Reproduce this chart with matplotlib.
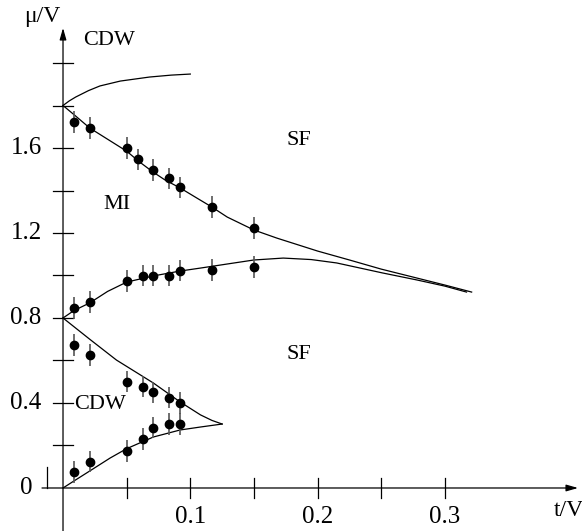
import matplotlib
matplotlib.use("Agg")
import matplotlib.pyplot as plt

plt.rcParams['font.family'] = ['Liberation Serif', 'DejaVu Serif']

# ---------------- data (t/V, mu/V) ----------------
# phase boundaries
cdw_top_t = [0.0, 0.005, 0.01, 0.02, 0.029, 0.045, 0.068, 0.085, 0.1]
cdw_top_mu = [1.8, 1.822, 1.84, 1.87, 1.892, 1.915, 1.934, 1.943, 1.948]

mi_upper_t = [0.0, 0.01, 0.021, 0.05, 0.06, 0.07, 0.08, 0.092, 0.105, 0.117,
              0.129, 0.15, 0.168, 0.2, 0.225, 0.25, 0.278, 0.3, 0.321]
mi_upper_mu = [1.8, 1.75, 1.694, 1.585, 1.535, 1.49, 1.45, 1.412, 1.365, 1.322,
               1.275, 1.214, 1.176, 1.115, 1.073, 1.03, 0.988, 0.955, 0.922]

mi_lower_t = [0.0, 0.0086, 0.021, 0.035, 0.05, 0.071, 0.092, 0.108, 0.13, 0.15,
              0.173, 0.195, 0.215, 0.251, 0.278, 0.3, 0.317]
mi_lower_mu = [0.8, 0.835, 0.871, 0.925, 0.969, 0.998, 1.021, 1.035, 1.055, 1.073,
               1.082, 1.075, 1.059, 1.012, 0.979, 0.95, 0.922]

cdw_up_t = [0.0, 0.021, 0.042, 0.06, 0.071, 0.092, 0.108, 0.117, 0.125]
cdw_up_mu = [0.8, 0.70, 0.602, 0.535, 0.494, 0.405, 0.344, 0.318, 0.301]

cdw_low_t = [0.0, 0.0086, 0.021, 0.037, 0.05, 0.071, 0.092, 0.108, 0.125]
cdw_low_mu = [0.0, 0.033, 0.08, 0.141, 0.185, 0.24, 0.273, 0.287, 0.301]

# numerical data points with error bars
p1_t = [0.0086, 0.021, 0.05, 0.059, 0.071, 0.083, 0.092, 0.117, 0.15]
p1_mu = [1.722, 1.694, 1.60, 1.547, 1.496, 1.457, 1.415, 1.322, 1.224]

p2_t = [0.0086, 0.021, 0.05, 0.063, 0.071, 0.083, 0.092, 0.117, 0.15]
p2_mu = [0.847, 0.875, 0.974, 0.999, 0.999, 0.999, 1.023, 1.026, 1.04]

p3_t = [0.0086, 0.021, 0.05, 0.063, 0.071, 0.083, 0.092]
p3_mu = [0.673, 0.626, 0.50, 0.477, 0.45, 0.425, 0.40]

p4_t = [0.0086, 0.021, 0.05, 0.063, 0.071, 0.083, 0.092]
p4_mu = [0.075, 0.124, 0.174, 0.23, 0.284, 0.301, 0.301]

err = 0.05

x_ticks = [0.05, 0.1, 0.15, 0.2, 0.25, 0.3]
x_labels = {0.1: '0.1', 0.2: '0.2', 0.3: '0.3'}
y_ticks = [0.2, 0.4, 0.6, 0.8, 1.0, 1.2, 1.4, 1.6, 1.8, 2.0]
y_labels = {0.0: '0', 0.4: '0.4', 0.8: '0.8', 1.2: '1.2', 1.6: '1.6'}

# ---------------- figure ----------------
fig = plt.figure(figsize=(5.82, 5.31), dpi=100)
ax = fig.add_axes([0, 0, 1, 1])
ax.set_xlim(-0.0495, 0.4077)
ax.set_ylim(-0.2024, 2.2965)
ax.axis('off')

lw = 0.9
k = 'black'

# axes with arrows
ax.annotate('', xy=(0, 2.165), xytext=(0, -0.2024),
            arrowprops=dict(arrowstyle='-|>,head_length=0.7,head_width=0.2',
                            lw=lw, color=k, shrinkA=0, shrinkB=0, mutation_scale=10))
ax.annotate('', xy=(0.4046, 0), xytext=(-0.0165, 0),
            arrowprops=dict(arrowstyle='-|>,head_length=0.7,head_width=0.2',
                            lw=lw, color=k, shrinkA=0, shrinkB=0, mutation_scale=10))

# tick marks
for t in x_ticks:
    ax.plot([t, t], [-0.047, 0.047], color=k, lw=lw)
for m in y_ticks:
    ax.plot([-0.0079, 0.0079], [m, m], color=k, lw=lw)
ax.plot([-0.0125, -0.0125], [0.0, 0.1], color=k, lw=lw)

# tick labels
for t, s in x_labels.items():
    ax.text(t, -0.163, s, fontsize=18, ha='center', va='baseline')
for m, s in y_labels.items():
    ax.text(-0.029, m, s, fontsize=18, ha='center', va='center')

ax.text(-0.0165, 2.22, 'μ/V', fontsize=17, ha='center', va='center')
ax.text(0.397, -0.108, 't/V', fontsize=17, ha='center', va='center')

# phase boundaries
for tt, mm in [(cdw_top_t, cdw_top_mu), (mi_upper_t, mi_upper_mu),
               (mi_lower_t, mi_lower_mu), (cdw_up_t, cdw_up_mu),
               (cdw_low_t, cdw_low_mu)]:
    ax.plot(tt, mm, color=k, lw=lw)

# data points
for tt, mm in [(p1_t, p1_mu), (p2_t, p2_mu), (p3_t, p3_mu), (p4_t, p4_mu)]:
    ax.errorbar(tt, mm, yerr=err, fmt='o', color=k, ms=6, ecolor='#555555',
                elinewidth=1.2, capsize=0)

# phase labels
ax.text(0.036, 2.104, 'CDW', fontsize=16, ha='center', va='center')
ax.text(0.185, 1.637, 'SF', fontsize=16, ha='center', va='center')
ax.text(0.042, 1.336, 'MI', fontsize=16, ha='center', va='center')
ax.text(0.185, 0.626, 'SF', fontsize=16, ha='center', va='center')
ax.text(0.029, 0.391, 'CDW', fontsize=16, ha='center', va='center')

fig.savefig('out.png', dpi=100)
